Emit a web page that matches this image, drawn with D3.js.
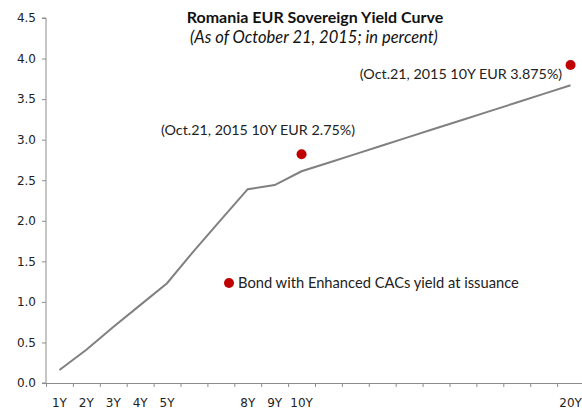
<!DOCTYPE html>
<html>
<head>
<meta charset="utf-8">
<script src="https://cdn.jsdelivr.net/npm/d3@7"></script>
<style>
body { margin: 0; background: #fff; }
</style>
</head>
<body>
<section id="grafico"></section>
<script>
const maturities = ["1Y","2Y","3Y","4Y","5Y","6Y","7Y","8Y","9Y","10Y","11Y","12Y","13Y","14Y","15Y","16Y","17Y","18Y","19Y","20Y"];
const shownLabels = ["1Y","2Y","3Y","4Y","5Y","8Y","9Y","10Y","20Y"];
const yields = [0.16,0.41,0.69,0.96,1.23,1.63,2.01,2.39,2.44,2.61,2.716,2.822,2.928,3.034,3.14,3.246,3.352,3.458,3.564,3.67];
const bondPoints = [["10Y",2.82],["20Y",3.92]];
const bondLabels = ["(Oct.21, 2015 10Y EUR 2.75%)","(Oct.21, 2015 10Y EUR 3.875%)"];
const yTicks = [0,0.5,1,1.5,2,2.5,3,3.5,4,4.5];

const width = 582;
const height = 412;
const marginL = 46;
const marginR = -2;
const marginT = 18;
const marginB = 29;

const svg = d3.select("section#grafico")
    .append("svg")
    .attr("width", width)
    .attr("height", height);

const xScale = d3.scaleBand()
    .domain(maturities)
    .range([marginL, width - marginR]);

const xEdge = d3.scaleLinear()
    .domain([0, maturities.length])
    .range([marginL, width - marginR]);

const yScale = d3.scaleLinear()
    .domain([0, 4.5])
    .range([height - marginB, marginT]);

const axisColor = "#8c8c8c";
const tickFont = "DejaVu Sans, Verdana, sans-serif";

// y axis
const yAxis = svg.append("g")
    .attr("transform", `translate(${marginL},0)`)
    .call(d3.axisLeft(yScale).tickValues(yTicks).tickFormat(d3.format(".1f")).tickSize(4).tickPadding(6));
yAxis.select(".domain").attr("stroke", axisColor).attr("d", `M-4,${yScale(4.5)}H0V${yScale(0)}H-4`);
yAxis.selectAll(".tick line").attr("stroke", axisColor);
yAxis.selectAll("text").style("font-family", tickFont).style("font-size", "12px").attr("fill", "#222");

// x axis: ticks at band edges
const xTicks = svg.append("g")
    .attr("transform", `translate(0,${height - marginB})`)
    .call(d3.axisBottom(xEdge).tickValues(d3.range(0, maturities.length + 1)).tickFormat("").tickSize(4).tickSizeOuter(0));
xTicks.select(".domain").attr("stroke", axisColor);
xTicks.selectAll(".tick line").attr("stroke", axisColor);

// x labels, centered in bands
const xLabels = svg.append("g")
    .attr("transform", `translate(0,${height - marginB})`)
    .call(d3.axisBottom(xScale).tickSize(0).tickPadding(15)
        .tickFormat(d => shownLabels.includes(d) ? d : ""));
xLabels.select(".domain").remove();
xLabels.selectAll("text").style("font-family", tickFont).style("font-size", "12px").attr("fill", "#222");

// yield curve
const line = d3.line()
    .x((d, i) => xScale(maturities[i]) + xScale.bandwidth() / 2)
    .y(d => yScale(d));

svg.append("path")
    .datum(yields)
    .attr("fill", "none")
    .attr("stroke", "#808080")
    .attr("stroke-width", 2)
    .attr("d", line);

// bond dots
svg.selectAll("circle.bond")
    .data(bondPoints)
    .enter()
    .append("circle")
    .attr("class", "bond")
    .attr("cx", d => xScale(d[0]) + xScale.bandwidth() / 2)
    .attr("cy", d => yScale(d[1]))
    .attr("r", 5)
    .attr("fill", "#c00000");

// annotations
const textFont = "Lato, 'Open Sans', sans-serif";
svg.append("text")
    .attr("x", 258).attr("y", 135)
    .attr("text-anchor", "middle")
    .style("font-family", textFont).style("font-size", "14.3px").attr("fill", "#222")
    .text(bondLabels[0]);
svg.append("text")
    .attr("x", 461).attr("y", 79)
    .attr("text-anchor", "middle")
    .style("font-family", textFont).style("font-size", "14.3px").attr("fill", "#222")
    .text(bondLabels[1]);

// legend
svg.append("circle")
    .attr("cx", 229).attr("cy", 283).attr("r", 5).attr("fill", "#c00000");
svg.append("text")
    .attr("x", 238).attr("y", 288)
    .style("font-family", textFont).style("font-size", "14.7px").attr("fill", "#222")
    .text("Bond with Enhanced CACs yield at issuance");

// title
svg.append("text")
    .attr("x", 315).attr("y", 23)
    .attr("text-anchor", "middle")
    .style("font-family", textFont).style("font-size", "16px").style("font-weight", "bold").attr("fill", "#111")
    .text("Romania  EUR Sovereign Yield Curve");
svg.append("text")
    .attr("x", 314).attr("y", 43)
    .attr("text-anchor", "middle")
    .style("font-family", textFont).style("font-size", "16.5px").style("font-style", "italic").attr("fill", "#111")
    .text("(As of October 21, 2015; in percent)");
</script>
</body>
</html>
